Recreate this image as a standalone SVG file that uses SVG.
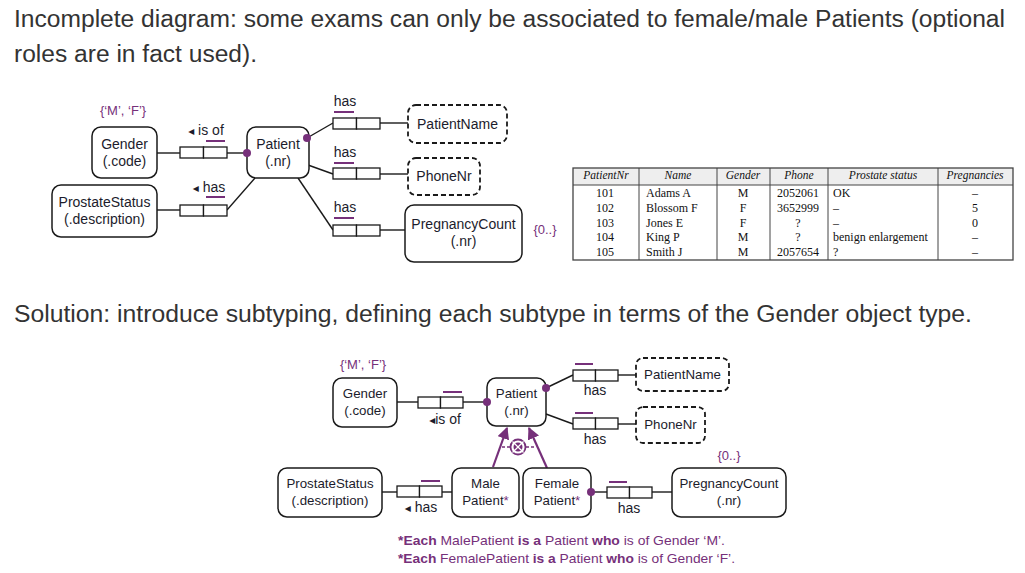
<svg xmlns="http://www.w3.org/2000/svg" width="1025" height="573" viewBox="0 0 1025 573">
<style>
.h{font-family:"Liberation Sans",Arial,sans-serif;font-size:23px;fill:#333}
.n{font-family:"Liberation Sans",Arial,sans-serif;font-size:14px;fill:#1c1c2c;text-anchor:middle}
.s{font-size:13.3px}
.lab{font-family:"Liberation Sans","DejaVu Sans",Arial,sans-serif;font-size:14px;fill:#1c1c2c;text-anchor:middle}
.tri{font-family:"DejaVu Sans",sans-serif;font-size:12px}
.p{font-family:"Liberation Sans",Arial,sans-serif;font-size:13px;fill:#76307a;text-anchor:middle}
.box{fill:#fff;stroke:#1a1a1a;stroke-width:1.5}
.dash{fill:#fff;stroke:#1a1a1a;stroke-width:1.8;stroke-dasharray:5,3}
.role{fill:#fff;stroke:#1a1a1a;stroke-width:1.3}
.ln{stroke:#1a1a1a;stroke-width:1.4;fill:none}
.uc{stroke:#76307a;stroke-width:2}
.dot{fill:#76307a}
.sub{stroke:#76307a;stroke-width:2.2;fill:none}
.t{font-family:"Liberation Serif","Times New Roman",serif;font-size:12px;fill:#111}
.ti{font-family:"Liberation Serif","Times New Roman",serif;font-size:11.5px;font-style:italic;fill:#111;text-anchor:middle}
.fn{font-family:"Liberation Sans",Arial,sans-serif;font-size:13px;fill:#76307a}
.b{font-weight:bold}
</style>
<defs>
<marker id="ah" viewBox="0 0 10 10" refX="9" refY="5" markerWidth="5.5" markerHeight="5.5" orient="auto" markerUnits="strokeWidth">
<path d="M0,0 L10,5 L0,10 z" fill="#76307a"/>
</marker>
</defs>

<!-- headings -->
<text class="h" x="14" y="27" textLength="991" lengthAdjust="spacingAndGlyphs">Incomplete diagram: some exams can only be associated to female/male Patients (optional</text>
<text class="h" x="14" y="62" textLength="243" lengthAdjust="spacingAndGlyphs">roles are in fact used).</text>
<text class="h" x="14" y="322" textLength="958" lengthAdjust="spacingAndGlyphs">Solution: introduce subtyping, defining each subtype in terms of the Gender object type.</text>

<!-- ===== TOP DIAGRAM ===== -->
<g id="top-connectors">
<line class="ln" x1="157" y1="153" x2="180" y2="153"/>
<line class="ln" x1="227" y1="153" x2="247" y2="153"/>
<line class="ln" x1="157" y1="210" x2="180" y2="210"/>
<line class="ln" x1="227" y1="210" x2="255" y2="178"/>
<line class="ln" x1="307" y1="138" x2="333" y2="123"/>
<line class="ln" x1="380" y1="123" x2="408" y2="123"/>
<line class="ln" x1="308" y1="165" x2="333" y2="174"/>
<line class="ln" x1="380" y1="174" x2="408" y2="174"/>
<line class="ln" x1="298" y1="178" x2="333" y2="230"/>
<line class="ln" x1="380" y1="230" x2="405" y2="230"/>
</g>

<g id="t-gender">
<text class="p" x="123" y="115">{‘M’, ‘F’}</text>
<rect class="box" x="92" y="127" width="65" height="51" rx="9"/>
<text class="n" x="124.5" y="149">Gender</text>
<text class="n" x="124.5" y="166">(.code)</text>
</g>
<g id="t-prostate">
<rect class="box" x="52" y="185" width="105" height="52" rx="9"/>
<text class="n" x="104.5" y="207">ProstateStatus</text>
<text class="n" x="104.5" y="224">(.description)</text>
</g>
<g id="t-patient">
<rect class="box" x="247" y="127" width="62" height="51" rx="9"/>
<text class="n" x="278" y="149">Patient</text>
<text class="n" x="278" y="166">(.nr)</text>
</g>
<g id="t-patientname">
<rect class="dash" x="408" y="105" width="99" height="38" rx="8"/>
<text class="n" x="457.5" y="129">PatientName</text>
</g>
<g id="t-phonenr">
<rect class="dash" x="408" y="158" width="72" height="37" rx="8"/>
<text class="n" x="444" y="181">PhoneNr</text>
</g>
<g id="t-pregnancy">
<rect class="box" x="405" y="205" width="117" height="57" rx="9"/>
<text class="n" x="463.5" y="229">PregnancyCount</text>
<text class="n" x="463.5" y="246">(.nr)</text>
<text class="p" x="545" y="234">{0..}</text>
</g>

<g id="t-fact-isof">
<rect class="role" x="180" y="147" width="23.5" height="11"/>
<rect class="role" x="203.5" y="147" width="23.5" height="11"/>
<line class="uc" x1="206" y1="141" x2="225" y2="141"/>
<text class="lab" x="206" y="135"><tspan class="tri">◂</tspan> is of</text>
<circle class="dot" cx="247" cy="153" r="4"/>
</g>
<g id="t-fact-prostate">
<rect class="role" x="180" y="205" width="23.5" height="11"/>
<rect class="role" x="203.5" y="205" width="23.5" height="11"/>
<line class="uc" x1="206" y1="197" x2="225" y2="197"/>
<text class="lab" x="209" y="192"><tspan class="tri">◂</tspan> has</text>
</g>
<g id="t-fact-name">
<rect class="role" x="333" y="118" width="23.5" height="11"/>
<rect class="role" x="356.5" y="118" width="23.5" height="11"/>
<line class="uc" x1="334" y1="112" x2="354" y2="112"/>
<text class="lab" x="345" y="106">has</text>
<circle class="dot" cx="307" cy="138" r="4"/>
</g>
<g id="t-fact-phone">
<rect class="role" x="333" y="168" width="23.5" height="11"/>
<rect class="role" x="356.5" y="168" width="23.5" height="11"/>
<line class="uc" x1="334" y1="163" x2="354" y2="163"/>
<text class="lab" x="345" y="157">has</text>
</g>
<g id="t-fact-preg">
<rect class="role" x="333" y="225" width="23.5" height="11"/>
<rect class="role" x="356.5" y="225" width="23.5" height="11"/>
<line class="uc" x1="334" y1="218" x2="354" y2="218"/>
<text class="lab" x="345" y="212">has</text>
</g>

<!-- table -->
<g id="table">
<rect x="573" y="168" width="440" height="17" fill="#eeeeee"/>
<rect x="573" y="168" width="440" height="92" fill="none" stroke="#444" stroke-width="1.3"/>
<line x1="573" y1="185" x2="1013" y2="185" stroke="#444" stroke-width="1"/>
<g stroke="#444" stroke-width="1">
<line x1="639" y1="168" x2="639" y2="260"/>
<line x1="717" y1="168" x2="717" y2="260"/>
<line x1="770" y1="168" x2="770" y2="260"/>
<line x1="828" y1="168" x2="828" y2="260"/>
<line x1="938" y1="168" x2="938" y2="260"/>
</g>
<text class="ti" x="606" y="179">PatientNr</text>
<text class="ti" x="678" y="179">Name</text>
<text class="ti" x="743" y="179">Gender</text>
<text class="ti" x="799" y="179">Phone</text>
<text class="ti" x="883" y="179">Prostate status</text>
<text class="ti" x="975" y="179">Pregnancies</text>
<g class="t" text-anchor="middle">
<text x="605" y="197">101</text><text x="605" y="212">102</text><text x="605" y="226.5">103</text><text x="605" y="241">104</text><text x="605" y="256">105</text>
<text x="743" y="197">M</text><text x="743" y="212">F</text><text x="743" y="226.5">F</text><text x="743" y="241">M</text><text x="743" y="256">M</text>
<text x="798" y="197">2052061</text><text x="798" y="212">3652999</text><text x="798" y="226.5">?</text><text x="798" y="241">?</text><text x="798" y="256">2057654</text>
<text x="975" y="197">–</text><text x="975" y="212">5</text><text x="975" y="226.5">0</text><text x="975" y="241">–</text><text x="975" y="256">–</text>
</g>
<g class="t">
<text x="646" y="197">Adams A</text><text x="646" y="212">Blossom F</text><text x="646" y="226.5">Jones E</text><text x="646" y="241">King P</text><text x="646" y="256">Smith J</text>
<text x="833" y="197">OK</text><text x="833" y="212">–</text><text x="833" y="226.5">–</text><text x="833" y="241">benign enlargement</text><text x="833" y="256">?</text>
</g>
</g>

<!-- ===== BOTTOM DIAGRAM ===== -->
<g id="bottom-connectors">
<line class="ln" x1="397" y1="402" x2="418" y2="402"/>
<line class="ln" x1="463" y1="402" x2="487" y2="402"/>
<line class="ln" x1="546" y1="388" x2="573" y2="375"/>
<line class="ln" x1="618" y1="375" x2="636" y2="375"/>
<line class="ln" x1="546" y1="414" x2="573" y2="424"/>
<line class="ln" x1="618" y1="424" x2="636" y2="424"/>
<line class="ln" x1="382" y1="492" x2="397" y2="492"/>
<line class="ln" x1="442" y1="492" x2="452" y2="492"/>
<line class="ln" x1="591" y1="492" x2="607" y2="492"/>
<line class="ln" x1="652" y1="492" x2="672" y2="492"/>
<line class="sub" x1="493" y1="467" x2="507" y2="428" marker-end="url(#ah)"/>
<line class="sub" x1="547" y1="468" x2="529" y2="428" marker-end="url(#ah)"/>
<line x1="502" y1="447" x2="510" y2="447" stroke="#76307a" stroke-width="1.5" stroke-dasharray="3,2"/>
<line x1="526" y1="447" x2="536" y2="447" stroke="#76307a" stroke-width="1.5" stroke-dasharray="3,2"/>
</g>

<g id="b-xor">
<circle cx="518" cy="447" r="7.5" fill="#fff" stroke="#76307a" stroke-width="1.8"/>
<circle cx="518" cy="447" r="4.5" fill="#76307a"/>
<line x1="512.5" y1="441.5" x2="523.5" y2="452.5" stroke="#fff" stroke-width="1.2"/>
<line x1="523.5" y1="441.5" x2="512.5" y2="452.5" stroke="#fff" stroke-width="1.2"/>
</g>

<g id="b-gender">
<text class="p" x="363" y="369">{‘M’, ‘F’}</text>
<rect class="box" x="333" y="378" width="64" height="49" rx="9"/>
<text class="n s" x="365" y="398">Gender</text>
<text class="n s" x="365" y="415">(.code)</text>
</g>
<g id="b-patient">
<rect class="box" x="487" y="378" width="59" height="48" rx="9"/>
<text class="n s" x="516.5" y="398">Patient</text>
<text class="n s" x="516.5" y="415">(.nr)</text>
</g>
<g id="b-patientname">
<rect class="dash" x="636" y="358" width="93" height="33" rx="7"/>
<text class="n s" x="682.5" y="379">PatientName</text>
</g>
<g id="b-phonenr">
<rect class="dash" x="636" y="407" width="69" height="36" rx="7"/>
<text class="n s" x="670.5" y="429">PhoneNr</text>
</g>
<g id="b-prostate">
<rect class="box" x="278" y="468" width="104" height="49" rx="9"/>
<text class="n s" x="330" y="488">ProstateStatus</text>
<text class="n s" x="330" y="505">(.description)</text>
</g>
<g id="b-male">
<rect class="box" x="452" y="468" width="67" height="49" rx="9"/>
<text class="n s" x="485.5" y="488">Male</text>
<text class="n s" x="485.5" y="505">Patient<tspan fill="#76307a">*</tspan></text>
</g>
<g id="b-female">
<rect class="box" x="523" y="468" width="68" height="49" rx="9"/>
<text class="n s" x="557" y="488">Female</text>
<text class="n s" x="557" y="505">Patient<tspan fill="#76307a">*</tspan></text>
</g>
<g id="b-pregnancy">
<text class="p" x="729" y="460">{0..}</text>
<rect class="box" x="672" y="468" width="114" height="49" rx="9"/>
<text class="n s" x="729" y="488">PregnancyCount</text>
<text class="n s" x="729" y="505">(.nr)</text>
</g>

<g id="b-fact-isof">
<rect class="role" x="418" y="397" width="22.5" height="11"/>
<rect class="role" x="440.5" y="397" width="22.5" height="11"/>
<line class="uc" x1="443" y1="392" x2="462" y2="392"/>
<text class="lab s" x="445" y="424"><tspan class="tri" font-size="11">◂</tspan>is of</text>
<circle class="dot" cx="487" cy="402" r="4"/>
</g>
<g id="b-fact-name">
<rect class="role" x="573" y="370" width="22.5" height="11"/>
<rect class="role" x="595.5" y="370" width="22.5" height="11"/>
<line class="uc" x1="575" y1="364" x2="593" y2="364"/>
<text class="lab s" x="595" y="395">has</text>
<circle class="dot" cx="546" cy="388" r="4"/>
</g>
<g id="b-fact-phone">
<rect class="role" x="573" y="418" width="22.5" height="11"/>
<rect class="role" x="595.5" y="418" width="22.5" height="11"/>
<line class="uc" x1="575" y1="413" x2="593" y2="413"/>
<text class="lab s" x="595" y="444">has</text>
</g>
<g id="b-fact-prostate">
<rect class="role" x="397" y="486" width="22.5" height="11"/>
<rect class="role" x="419.5" y="486" width="22.5" height="11"/>
<line class="uc" x1="421" y1="481" x2="440" y2="481"/>
<text class="lab s" x="421" y="512"><tspan class="tri" font-size="11">◂</tspan> has</text>
</g>
<g id="b-fact-preg">
<rect class="role" x="607" y="487" width="22.5" height="11"/>
<rect class="role" x="629.5" y="487" width="22.5" height="11"/>
<line class="uc" x1="609" y1="482" x2="627" y2="482"/>
<text class="lab s" x="629" y="513">has</text>
<circle class="dot" cx="591" cy="492" r="4"/>
</g>

<g id="footnotes">
<text class="fn" x="398" y="545" textLength="327" lengthAdjust="spacingAndGlyphs"><tspan class="b">*Each</tspan> MalePatient <tspan class="b">is a</tspan> Patient <tspan class="b">who</tspan> is of Gender ‘M’.</text>
<text class="fn" x="398" y="563" textLength="337" lengthAdjust="spacingAndGlyphs"><tspan class="b">*Each</tspan> FemalePatient <tspan class="b">is a</tspan> Patient <tspan class="b">who</tspan> is of Gender ‘F’.</text>
</g>
</svg>
